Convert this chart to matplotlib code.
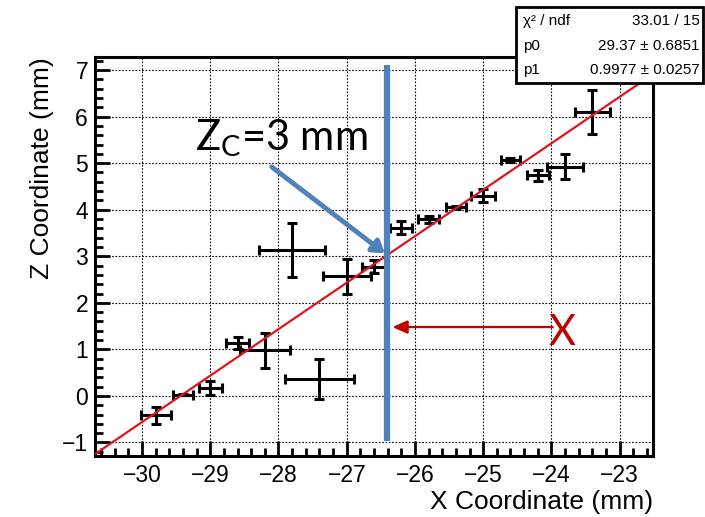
import numpy as np
import matplotlib
matplotlib.use('Agg')
import matplotlib.pyplot as plt
from matplotlib.patches import Rectangle
from matplotlib.ticker import MultipleLocator

# Measured points (mm) with errors
x_vals = [-29.8, -29.4, -29.0, -28.6, -28.2, -27.8, -27.4, -27.0, -26.6,
          -26.2, -25.8, -25.4, -25.0, -24.6, -24.2, -23.8, -23.4]
z_vals = [-0.42, 0.03, 0.18, 1.14, 0.98, 3.14, 0.37, 2.57, 2.77,
          3.61, 3.79, 4.05, 4.30, 5.06, 4.74, 4.92, 6.10]
x_err = [0.22, 0.14, 0.17, 0.17, 0.37, 0.48, 0.50, 0.35, 0.18,
         0.16, 0.16, 0.15, 0.18, 0.14, 0.16, 0.27, 0.26]
z_err = [0.19, 0.02, 0.15, 0.13, 0.38, 0.58, 0.43, 0.37, 0.14,
         0.14, 0.07, 0.04, 0.14, 0.04, 0.12, 0.27, 0.47]

# fit results
p0, p0_err = 29.37, 0.6851
p1, p1_err = 0.9977, 0.0257
chi2, ndf = 33.01, 15

x_cross = -26.41   # position of the vertical marker
z_cross = 3.0

plt.rcParams['font.family'] = ['Liberation Sans', 'DejaVu Sans']
plt.rcParams['mathtext.fontset'] = 'custom'
plt.rcParams['mathtext.rm'] = 'Lato'
plt.rcParams['mathtext.it'] = 'Lato'

W, H = 705, 517
fig = plt.figure(figsize=(W / 100, H / 100), dpi=100)
ax = fig.add_axes([95 / W, 1 - 456 / H, 558 / W, 399 / H])

ax.set_xlim(-30.69, -22.51)
ax.set_ylim(-1.29, 7.28)

ax.errorbar(x_vals, z_vals, xerr=x_err, yerr=z_err, fmt='none', ecolor='black',
            elinewidth=2.2, capsize=3.5, capthick=2.2, zorder=3)

xf = np.array(ax.get_xlim())
ax.plot(xf, p0 + p1 * xf, color='#e0141e', lw=1.6, zorder=4)

# grid and ticks in ROOT style
ax.xaxis.set_major_locator(MultipleLocator(1))
ax.xaxis.set_minor_locator(MultipleLocator(0.2))
ax.yaxis.set_major_locator(MultipleLocator(1))
ax.yaxis.set_minor_locator(MultipleLocator(0.2))
ax.grid(True, which='major', color='black', linestyle=(0, (1.5, 1.5)), lw=0.8)
ax.tick_params(which='both', direction='in', top=False, right=False, width=2)
ax.tick_params(which='major', length=11, labelsize=16.5)
ax.tick_params(axis='x', which='major', pad=6)
ax.tick_params(axis='y', which='major', pad=5)
ax.tick_params(which='minor', length=6)
for sp in ax.spines.values():
    sp.set_linewidth(2.2)

ax.set_xlabel('X Coordinate (mm)', fontsize=19, loc='right', labelpad=2)
ax.set_ylabel('Z Coordinate (mm)', fontsize=19, loc='top', labelpad=6)

# annotations
ax.plot([x_cross, x_cross], [7.1, -0.97], color='#4f81bd', lw=4.5,
        solid_capstyle='butt', zorder=5)
ax.annotate('', xy=(x_cross - 0.03, z_cross + 0.06), xytext=(-28.10, 4.92),
            arrowprops=dict(arrowstyle='-|>,head_length=0.7,head_width=0.45',
                            color='#4f81bd', lw=3.5, shrinkA=0, shrinkB=0),
            zorder=6)
ax.text(-29.23, 5.28, r'Z$_\mathrm{C}$=3 mm', fontsize=30, family='Lato',
        ha='left', va='baseline', zorder=6)

ax.annotate('', xy=(-26.33, 1.48), xytext=(-23.98, 1.48),
            arrowprops=dict(arrowstyle='-|>,head_length=0.9,head_width=0.4',
                            color='#c00000', lw=1.6, shrinkA=0, shrinkB=0),
            zorder=6)
ax.text(-23.84, 1.086, 'X', fontsize=30, family='Lato', color='#c00000',
        ha='center', va='baseline', zorder=6)

# stats box
box = Rectangle((516 / W, 1 - 83 / H), (703 - 516) / W, 76 / H,
                transform=fig.transFigure, facecolor='white',
                edgecolor='black', lw=2, zorder=10)
fig.add_artist(box)
rows = [('χ² / ndf', f'{chi2:.2f} / {ndf}'),
        ('p0', f'{p0:.2f} ± {p0_err:.4f}'),
        ('p1', f'{p1:.4f} ± {p1_err:.4f}')]
row_y = [21, 46, 70]
for (lab, val), ry in zip(rows, row_y):
    fig.text(523 / W, 1 - ry / H, lab, fontsize=11, ha='left', va='center', zorder=11)
    fig.text(700 / W, 1 - ry / H, val, fontsize=11, ha='right', va='center', zorder=11)

fig.savefig('out.png', dpi=100)
